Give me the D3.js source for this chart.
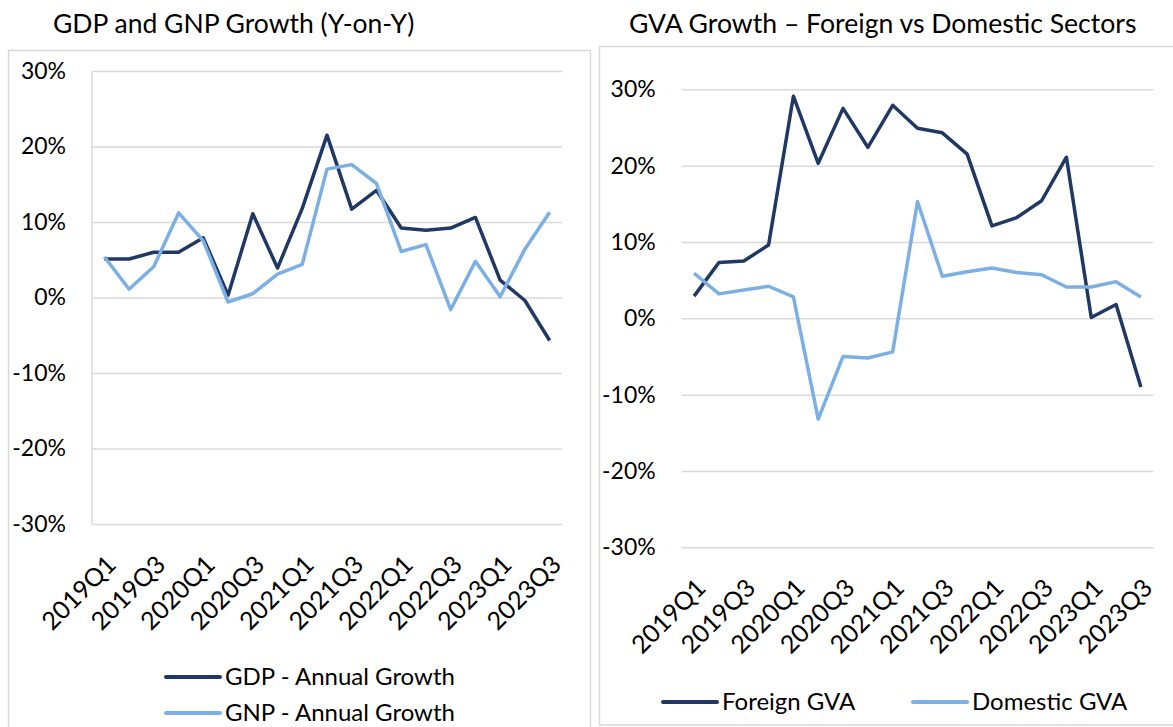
<!DOCTYPE html>
<html>
<head>
<meta charset="utf-8">
<script src="https://cdn.jsdelivr.net/npm/d3@7"></script>
<style>
  body { margin: 0; background: #fff; }
  svg { display: block; font-family: Lato, "Open Sans", sans-serif; }
  .grid line { stroke: #d9d9d9; stroke-width: 1.5; }
  .panel { fill: none; stroke: #d9d9d9; stroke-width: 1.5; }
</style>
</head>
<body>
<svg width="1173" height="727"></svg>
<script>
var quarters = ["2019Q1", "2019Q2", "2019Q3", "2019Q4",
                "2020Q1", "2020Q2", "2020Q3", "2020Q4",
                "2021Q1", "2021Q2", "2021Q3", "2021Q4",
                "2022Q1", "2022Q2", "2022Q3", "2022Q4",
                "2023Q1", "2023Q2", "2023Q3"];
var quarterLabels = ["2019Q1", "2019Q3", "2020Q1", "2020Q3", "2021Q1",
                     "2021Q3", "2022Q1", "2022Q3", "2023Q1", "2023Q3"];
var yTicks = [-30, -20, -10, 0, 10, 20, 30];

// GDP / GNP year-on-year growth, %
var gdpGrowth = [5.1, 5.1, 6.0, 6.0, 7.9, 0.3, 11.1, 3.9, 11.8, 21.5,
                 11.7, 14.2, 9.2, 8.9, 9.2, 10.6, 2.3, -0.4, -5.7];
var gnpGrowth = [5.4, 1.1, 4.1, 11.2, 7.5, -0.6, 0.5, 3.1, 4.4, 17.0,
                 17.6, 15.1, 6.1, 7.0, -1.6, 4.8, 0.1, 6.4, 11.3];

// GVA growth by sector, %
var foreignGva = [2.9, 7.3, 7.5, 9.6, 29.1, 20.3, 27.5, 22.4, 27.9, 24.9,
                  24.3, 21.5, 12.1, 13.2, 15.4, 21.1, 0.1, 1.8, -9.0];
var domesticGva = [5.9, 3.2, 3.7, 4.2, 2.8, -13.2, -5.0, -5.2, -4.4, 15.3,
                   5.5, 6.1, 6.6, 6.0, 5.7, 4.1, 4.1, 4.8, 2.8];

var DarkColor = "#1f3864";
var LightColor = "#7cafe4";

var svg = d3.select("svg");

// chart frames
svg.append("rect").attr("class", "panel")
    .attr("x", 8.5).attr("y", 50.5).attr("width", 582).attr("height", 720);
svg.append("rect").attr("class", "panel")
    .attr("x", 599.5).attr("y", 46.5).attr("width", 620).attr("height", 678.5);

// titles
svg.append("text")
    .attr("x", 53).attr("y", 33)
    .attr("font-size", 26.5).attr("fill", "#000")
    .text("GDP and GNP Growth (Y-on-Y)");
svg.append("text")
    .attr("x", 629).attr("y", 33)
    .attr("font-size", 26.6).attr("fill", "#000")
    .text("GVA Growth \u2013 Foreign vs Domestic Sectors");

drawChart({
    x0: 92, x1: 562, yTop: 71, yBottom: 524, axisLine: true,
    series: [
        {values: gdpGrowth, color: DarkColor},
        {values: gnpGrowth, color: LightColor}
    ]
});

drawChart({
    x0: 681.7, x1: 1153.3, yTop: 89.3, yBottom: 547.3, axisLine: false,
    series: [
        {values: foreignGva, color: DarkColor},
        {values: domesticGva, color: LightColor}
    ]
});

// legends
legendItem(166, 677, "GDP - Annual Growth", DarkColor);
legendItem(166, 713, "GNP - Annual Growth", LightColor);
legendItem(663, 702, "Foreign GVA", DarkColor);
legendItem(913, 702, "Domestic GVA", LightColor);

function drawChart(c) {
    var x = d3.scaleBand().domain(quarters).range([c.x0, c.x1]);
    var y = d3.scaleLinear().domain([-30, 30]).range([c.yBottom, c.yTop]);
    var half = x.bandwidth() / 2;

    var yAxis = svg.append("g")
        .attr("class", "grid")
        .attr("transform", "translate(" + c.x0 + ",0)")
        .call(d3.axisLeft(y)
            .tickValues(yTicks)
            .tickFormat(function (d) { return d + "%"; })
            .tickSizeInner(-(c.x1 - c.x0))
            .tickSizeOuter(0)
            .tickPadding(26));
    yAxis.select(".domain").remove();
    yAxis.selectAll("text")
        .attr("font-size", 23)
        .attr("font-family", "Lato, sans-serif")
        .attr("fill", "#000");

    if (c.axisLine) {
        svg.append("line")
            .attr("x1", c.x0).attr("x2", c.x0)
            .attr("y1", c.yTop).attr("y2", c.yBottom)
            .attr("stroke", "#d9d9d9").attr("stroke-width", 1.5);
    }

    var xAxis = svg.append("g")
        .attr("transform", "translate(0," + c.yBottom + ")")
        .call(d3.axisBottom(x).tickValues(quarterLabels).tickSize(0));
    xAxis.select(".domain").remove();
    xAxis.selectAll("text")
        .attr("font-size", 25)
        .attr("font-family", "Lato, sans-serif")
        .attr("fill", "#000")
        .attr("text-anchor", "end")
        .attr("x", 7)
        .attr("y", 36)
        .attr("dy", "0.35em")
        .attr("transform", "rotate(-45 7 36)");

    var line = d3.line()
        .x(function (d, i) { return x(quarters[i]) + half; })
        .y(function (d) { return y(d); });

    c.series.forEach(function (s) {
        svg.append("path")
            .datum(s.values)
            .attr("fill", "none")
            .attr("stroke", s.color)
            .attr("stroke-width", 3.5)
            .attr("stroke-linejoin", "round")
            .attr("d", line);
    });
}

function legendItem(x, y, label, color) {
    svg.append("line")
        .attr("x1", x).attr("x2", x + 54)
        .attr("y1", y).attr("y2", y)
        .attr("stroke", color).attr("stroke-width", 4)
        .attr("stroke-linecap", "round");
    svg.append("text")
        .attr("x", x + 59).attr("y", y)
        .attr("dy", "0.35em")
        .attr("font-size", 24)
        .attr("fill", "#000")
        .text(label);
}
</script>
</body>
</html>
